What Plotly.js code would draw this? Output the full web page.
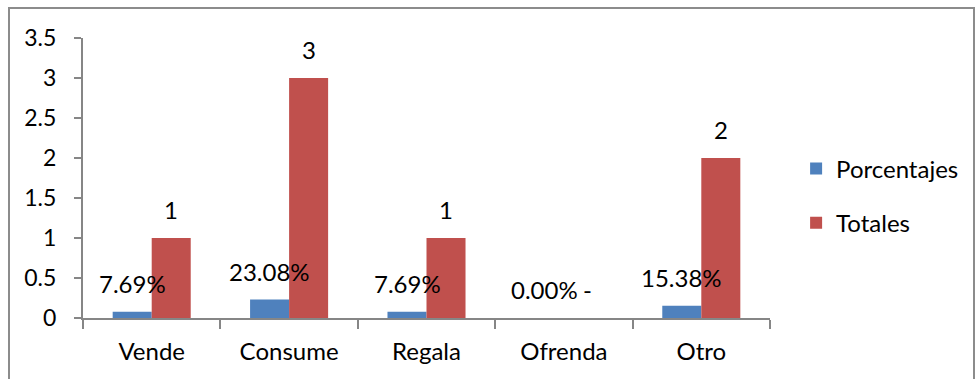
<!DOCTYPE html>
<html>
<head>
<meta charset="utf-8">
<script src="https://cdn.plot.ly/plotly-3.0.1.min.js"></script>
<style>
html,body{margin:0;padding:0;width:977px;height:379px;overflow:hidden;background:#fff;}
#chart{position:absolute;left:0;top:0;width:977px;height:379px;}
#frame{position:absolute;left:8px;top:7px;width:967px;height:420px;border:2px solid #8c8c8c;box-sizing:border-box;pointer-events:none;}
</style>
</head>
<body>
<div id="chart"></div>
<div id="frame"></div>
<script>
const categories = ['Vende', 'Consume', 'Regala', 'Ofrenda', 'Otro'];
const porcentajes = [0.0769, 0.2308, 0.0769, 0, 0.1538];
const totales = [1, 3, 1, 0, 2];
const yTicks = [0, 0.5, 1, 1.5, 2, 2.5, 3, 3.5];
const yTickLabels = ['0', '0.5', '1', '1.5', '2', '2.5', '3', '3.5'];

const FONT = 'Lato, "Open Sans", sans-serif';
const BLUE = '#4F81BD';
const RED = '#C0504D';
const HALF = 19.5; // half bar width in px

const pctText = porcentajes.map(v => (v * 100).toFixed(2) + '%');
const totText = totales.map(v => v === 0 ? '-' : String(v));

const traces = [
  {type: 'bar', name: 'Porcentajes', x: categories, y: porcentajes, marker: {color: BLUE}, legendgroup: 'a', hoverinfo: 'skip'},
  {type: 'bar', name: 'Totales', x: categories, y: totales, marker: {color: RED}, legendgroup: 'b', hoverinfo: 'skip'}
];

const annotations = [];
categories.forEach((c, i) => {
  annotations.push({x: c, y: porcentajes[i], xref: 'x', yref: 'y', text: pctText[i], showarrow: false,
    xanchor: 'center', yanchor: 'bottom', xshift: -HALF, yshift: 12, font: {family: FONT, size: 24, color: '#000'}});
  annotations.push({x: c, y: totales[i], xref: 'x', yref: 'y', text: totText[i], showarrow: false,
    xanchor: 'center', yanchor: 'bottom', xshift: totales[i] === 0 ? HALF + 4 : HALF, yshift: 12, font: {family: FONT, size: 24, color: '#000'}});
});

const layout = {
  width: 977, height: 379,
  margin: {l: 83, r: 207, t: 38, b: 61, pad: 0},
  paper_bgcolor: '#fff', plot_bgcolor: '#fff',
  font: {family: FONT, size: 24, color: '#000'},
  barmode: 'group', bargap: 0.432, bargroupgap: 0,
  showlegend: true,
  legend: {x: 1.038, xanchor: 'left', y: 0.436, yanchor: 'middle', font: {family: FONT, size: 24, color: '#000'},
    traceorder: 'grouped', tracegroupgap: 20, bgcolor: 'rgba(0,0,0,0)', borderwidth: 0, itemwidth: 30},
  xaxis: {type: 'category', showgrid: false, showline: true, linecolor: '#868686', linewidth: 2,
    ticks: 'outside', tickson: 'boundaries', ticklen: 9, tickcolor: '#868686', tickwidth: 2,
    tickfont: {family: FONT, size: 24, color: '#000'}, zeroline: false, fixedrange: true, ticklabelstandoff: 11},
  yaxis: {range: [0, 3.5], tickvals: yTicks, ticktext: yTickLabels, showgrid: false, showline: true,
    linecolor: '#868686', linewidth: 2, ticks: 'outside', ticklen: 7, tickcolor: '#868686', tickwidth: 2,
    tickfont: {family: FONT, size: 23, color: '#000'}, zeroline: false, fixedrange: true, ticklabelstandoff: 13},
  annotations: annotations
};

Plotly.newPlot('chart', traces, layout, {displayModeBar: false, staticPlot: true});
</script>
</body>
</html>
